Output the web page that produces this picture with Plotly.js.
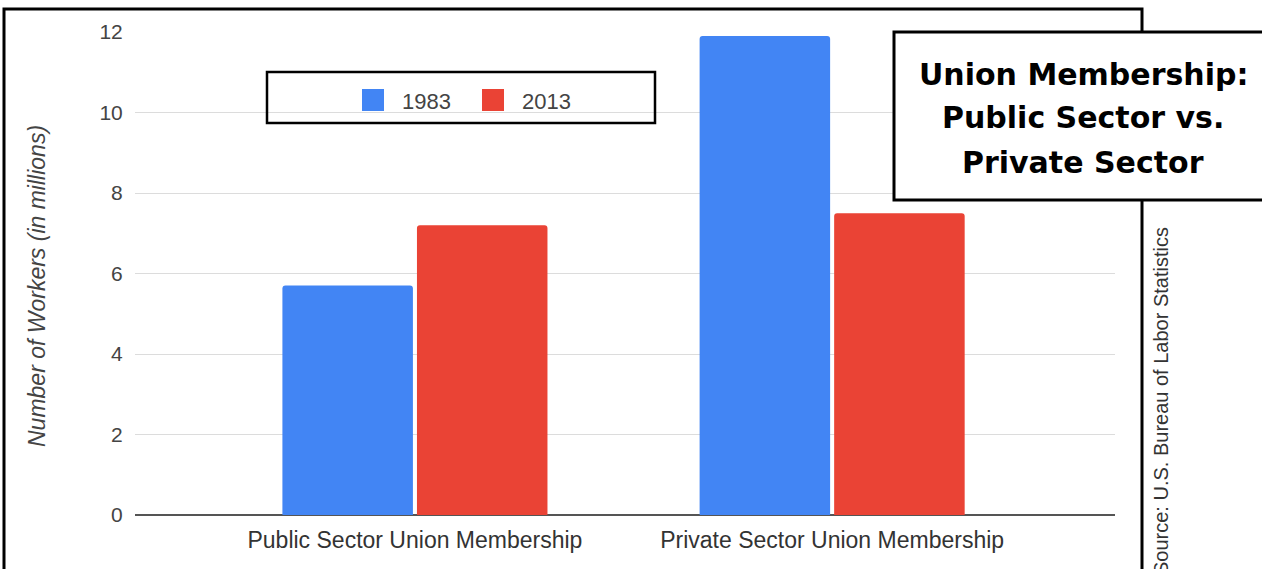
<!DOCTYPE html>
<html>
<head>
<meta charset="utf-8">
<script src="https://cdn.plot.ly/plotly-3.0.1.min.js"></script>
<style>
  html, body { margin: 0; padding: 0; background: #fff; }
  #chart { width: 1262px; height: 569px; }
</style>
</head>
<body>
<div id="chart"></div>
<script>
// ---- data ----
const categories = ["Public Sector Union Membership", "Private Sector Union Membership"];
const seriesNames = ["1983", "2013"];
const values1983 = [5.7, 11.9];
const values2013 = [7.2, 7.5];
const seriesColors = ["#4285F4", "#EA4335"];
const yTickValues = [0, 2, 4, 6, 8, 10, 12];
const titleLines = ["Union Membership:", "Public Sector vs.", "Private Sector"];
const sourceText = "Source: U.S. Bureau of Labor Statistics";
const yTitle = "Number of Workers (in millions)";

// ---- pixel helpers (plot area: x 135..1115, y 32..515) ----
const W = 1262, H = 569;
const L = 135, R = 1115, T = 32, B = 515;
const px = x => (x - L) / (R - L);
const py = y => (B - y) / (B - T);
const FONT = "Liberation Sans, Arial, sans-serif";

const traces = [values1983, values2013].map((vals, i) => ({
  type: "bar",
  name: seriesNames[i],
  x: categories,
  y: vals,
  marker: { color: seriesColors[i] },
  showlegend: false,
  hoverinfo: "skip"
}));

const annotations = titleLines.map((t, i) => ({
  text: "<b>" + t + "</b>",
  xref: "paper", yref: "paper",
  x: px(1083), y: py(74 + i * 44),
  xanchor: "center", yanchor: "middle",
  showarrow: false,
  font: { family: "DejaVu Sans", size: 30, color: "#000", weight: 900 }
}));
annotations.push({
  text: sourceText,
  xref: "paper", yref: "paper",
  x: px(1161), y: py(225),
  xanchor: "center", yanchor: "top",
  textangle: -90,
  showarrow: false,
  font: { family: FONT, size: 20, color: "#333" }
});
// y-axis title
annotations.push({
  text: "<i>" + yTitle + "</i>",
  xref: "paper", yref: "paper",
  x: px(37), y: py(286),
  xanchor: "center", yanchor: "middle",
  textangle: -90,
  showarrow: false,
  font: { family: FONT, size: 23, color: "#444" }
});

const shapes = [
  // outer frame
  { type: "path", xref: "paper", yref: "paper", layer: "above",
    path: `M ${px(4)} ${py(600)} L ${px(4)} ${py(9)} L ${px(1142)} ${py(9)} L ${px(1142)} ${py(600)}`,
    line: { color: "#000", width: 3 } },
  // title box
  { type: "rect", xref: "paper", yref: "paper", layer: "above",
    x0: px(894), x1: px(1280), y0: py(200), y1: py(32),
    fillcolor: "#fff", line: { color: "#000", width: 3 } },
  // legend box
  { type: "rect", xref: "paper", yref: "paper", layer: "above",
    x0: px(267), x1: px(655), y0: py(123), y1: py(72),
    line: { color: "#000", width: 2.5 } }
];

// legend entries (swatch + label) built from the series arrays
const legendSwatchX = [362, 482];
const legendTextX = [400, 520];
seriesNames.forEach((name, i) => {
  shapes.push({
    type: "rect", xref: "paper", yref: "paper", layer: "above",
    x0: px(legendSwatchX[i]), x1: px(legendSwatchX[i] + 22),
    y0: py(111), y1: py(89),
    fillcolor: seriesColors[i], line: { width: 0 }
  });
  annotations.push({
    text: name,
    xref: "paper", yref: "paper",
    x: px(legendTextX[i]), y: py(101),
    xanchor: "left", yanchor: "middle",
    showarrow: false,
    font: { family: FONT, size: 22, color: "#444" }
  });
});

const layout = {
  width: W, height: H,
  margin: { l: L, r: W - R, t: T, b: H - B, pad: 0 },
  paper_bgcolor: "#fff", plot_bgcolor: "#fff",
  font: { family: FONT, color: "#444" },
  barmode: "group",
  bargap: 0.355,
  bargroupgap: 0.03,
  barcornerradius: 3,
  showlegend: false,
  xaxis: {
    type: "category",
    range: [-0.671, 1.678],
    showgrid: false, zeroline: false, showline: false,
    ticks: "outside", ticklen: 4, tickcolor: "rgba(0,0,0,0)",
    tickfont: { size: 23, color: "#333" },
    fixedrange: true
  },
  yaxis: {
    range: [0, 12],
    tickvals: yTickValues,
    ticktext: yTickValues.map(String),
    showgrid: true, gridcolor: "#dcdcdc", gridwidth: 1,
    zeroline: true, zerolinecolor: "#555", zerolinewidth: 1.5,
    showline: false,
    ticks: "outside", ticklen: 7, tickcolor: "rgba(0,0,0,0)",
    tickfont: { size: 21, color: "#444" },
    fixedrange: true
  },
  shapes: shapes,
  annotations: annotations
};

Plotly.newPlot("chart", traces, layout, { displayModeBar: false, staticPlot: true });
</script>
</body>
</html>
